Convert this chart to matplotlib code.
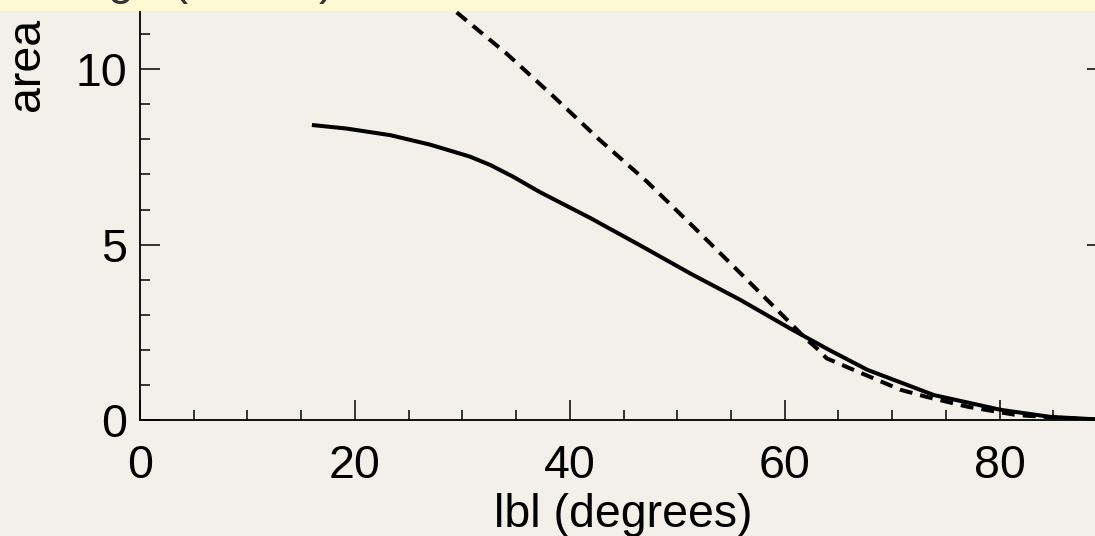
import matplotlib
matplotlib.use("Agg")
import matplotlib.pyplot as plt
from matplotlib.patches import Rectangle
from matplotlib.ticker import MultipleLocator

plt.rcParams["font.family"] = ["Liberation Sans", "DejaVu Sans"]

# Solid curve: area vs. latitude cut
lat_solid = [16.0, 19.2, 23.3, 27.0, 30.7, 32.6, 34.7, 37.2, 41.9, 46.6,
             51.2, 55.9, 60.5, 64.0, 67.7, 73.9, 80.1, 84.7, 88.9, 90.0]
area_solid = [8.41, 8.31, 8.12, 7.85, 7.51, 7.27, 6.94, 6.50, 5.76, 4.97,
              4.18, 3.42, 2.61, 2.02, 1.43, 0.71, 0.29, 0.09, 0.02, 0.0]

# Dashed curve
lat_dash = [27.0, 29.95, 34.1, 38.5, 42.8, 47.2, 51.5, 55.9, 59.3, 62.1,
            63.0, 63.9, 66.1, 70.8, 73.2, 77.0, 81.6, 86.3, 90.0]
area_dash = [12.25, 11.50, 10.45, 9.22, 7.98, 6.79, 5.51, 4.18, 3.14, 2.28,
             2.04, 1.76, 1.47, 0.86, 0.66, 0.38, 0.14, 0.05, 0.0]

x_ticks = [0, 20, 40, 60, 80]
y_ticks = [0, 5, 10]

BG = "#f3f0ea"
BAND = "#fdf9d2"
FS = 33.5

fig = plt.figure(figsize=(10.95, 5.36), dpi=100, facecolor=BG)
ax = fig.add_axes([140 / 1095, 116 / 536, 967 / 1095, 456 / 536])
ax.set_facecolor(BG)

ax.plot(lat_solid, area_solid, color="black", lw=2.9,
        solid_joinstyle="round", solid_capstyle="butt")
ax.plot(lat_dash, area_dash, color="black", lw=2.9, dashes=(3.2, 2.0))

ax.set_xlim(0, 90)
ax.set_ylim(0, 13)
ax.set_xticks(x_ticks)
ax.set_yticks(y_ticks)
ax.xaxis.set_minor_locator(MultipleLocator(5))
ax.yaxis.set_minor_locator(MultipleLocator(1))
ax.tick_params(which="both", direction="in", top=True, right=True,
               width=1.1, labelsize=FS, color="black")
ax.tick_params(which="major", length=14.5)
ax.tick_params(which="minor", length=7)
ax.tick_params(axis="x", pad=17.5)
ax.tick_params(axis="y", pad=9)
for sp in ax.spines.values():
    sp.set_linewidth(1.3)

ax.set_xlabel("lbl (degrees)", fontsize=FS, labelpad=3.5)
fig.text(29 / 1095, 423 / 536, "area above lbl (1000 deg²)", fontsize=FS,
         rotation=90, ha="center", va="bottom")

# highlight strip across the top, with the heading running under its edge
fig.patches.append(Rectangle((0, 1 - 11 / 536), 1, 11 / 536,
                             transform=fig.transFigure, facecolor=BAND,
                             edgecolor="none", zorder=5))
fig.text(-42 / 1095, 1 + 5.5 / 536, "Coverage (×1000)", fontsize=FS,
         ha="left", va="baseline", color="#333333", zorder=6)

fig.savefig("out.png", dpi=100, facecolor=BG)
